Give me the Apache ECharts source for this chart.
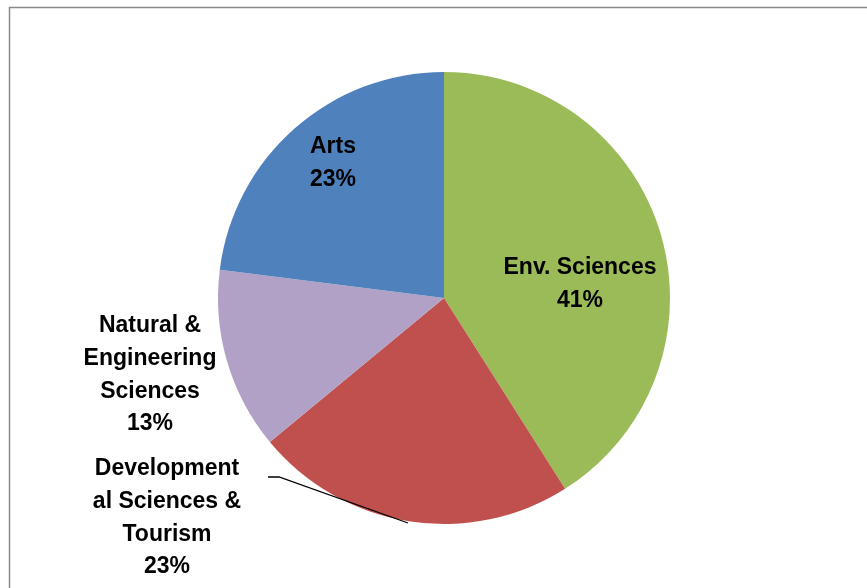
<!DOCTYPE html>
<html>
<head>
<meta charset="utf-8">
<script src="https://cdn.jsdelivr.net/npm/echarts@6/dist/echarts.min.js"></script>
<style>html,body{margin:0;padding:0;background:#fff}#c{width:867px;height:588px}</style>
</head>
<body>
<div id="c"></div>
<script>
var categories = ['Env. Sciences', 'Developmental Sciences & Tourism', 'Natural & Engineering Sciences', 'Arts'];
var labelTexts = ['Env. Sciences', 'Development\nal Sciences &\nTourism', 'Natural &\nEngineering\nSciences', 'Arts'];
var values = [41, 23, 13, 23];
var colors = ['#9BBB59', '#C0504D', '#B2A1C7', '#4F81BD'];

var labelPos = [
  {x: 580, y: 284},
  {x: 167, y: 518},
  {x: 150, y: 375},
  {x: 333, y: 163}
];

var pieBase = {
  type: 'pie',
  center: [444, 298],
  radius: 226,
  startAngle: 90,
  clockwise: true,
  avoidLabelOverlap: false
};

var chart = echarts.init(document.getElementById('c'));
chart.setOption({
  animation: false,
  graphic: [{
    type: 'rect', shape: {x: 9.5, y: 7.5, width: 900, height: 700},
    style: {fill: 'none', stroke: '#8a8a8a', lineWidth: 1.5}, silent: true
  }],
  series: [
    Object.assign({}, pieBase, {
      z: 2,
      data: categories.map(function (c, i) {
        return {name: c, value: values[i], itemStyle: {color: colors[i]}};
      }),
      label: {show: false},
      labelLine: {show: false}
    }),
    Object.assign({}, pieBase, {
      z: 5,
      silent: true,
      data: categories.map(function (c, i) {
        return {
          name: c, value: values[i],
          itemStyle: {color: 'rgba(0,0,0,0)'},
          labelLine: {show: i === 1, lineStyle: {color: '#000', width: 1.3}}
        };
      }),
      label: {
        show: true,
        position: 'outside',
        formatter: function (p) { return labelTexts[p.dataIndex] + '\n' + p.value + '%'; },
        fontFamily: "'Liberation Sans Narrow', 'Liberation Sans', sans-serif",
        fontWeight: 'bold',
        fontSize: 23,
        lineHeight: 32.7,
        color: '#000',
        align: 'center'
      },
      labelLayout: function (p) {
        var pos = labelPos[p.dataIndex];
        var r = {x: pos.x, y: pos.y, align: 'center', verticalAlign: 'middle'};
        if (p.dataIndex === 1) {
          r.labelLinePoints = [[408, 523], [279, 477], [268, 477]];
        }
        return r;
      }
    })
  ]
});
</script>
</body>
</html>
